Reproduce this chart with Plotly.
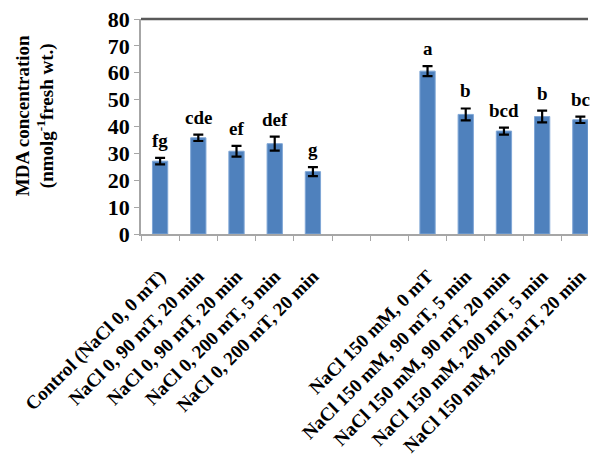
import plotly.graph_objects as go

labels = [
    "Control (NaCl 0, 0 mT)",
    "NaCl 0, 90 mT, 20 min",
    "NaCl 0, 90 mT, 20 min",
    "NaCl 0, 200 mT, 5 min",
    "NaCl 0, 200 mT, 20 min",
    "",
    "",
    "NaCl 150 mM, 0 mT",
    "NaCl 150 mM, 90 mT, 5 min",
    "NaCl 150 mM, 90 mT, 20 min",
    "NaCl 150 mM, 200 mT, 5 min",
    "NaCl 150 mM, 200 mT, 20 min",
]
values = [27.1, 35.8, 30.8, 33.6, 23.2, None, None, 60.6, 44.5, 38.3, 43.7, 42.5]
errors = [1.2, 1.2, 2.0, 2.6, 1.7, None, None, 1.85, 2.2, 1.3, 2.2, 1.2]
letters = ["fg", "cde", "ef", "def", "g", "", "", "a", "b", "bcd", "b", "bc"]

ids = [f"c{i}" for i in range(len(labels))]
FONT = "Liberation Serif, Times New Roman, serif"

fig = go.Figure()
fig.add_trace(go.Bar(
    x=ids, y=values,
    marker=dict(color="#4F81BD", line=dict(color="#7FA6D6", width=1)),
    error_y=dict(type="data", array=errors, visible=True,
                 color="black", thickness=2.2, width=5),
    width=0.4,
))

for cid, v, e, t in zip(ids, values, errors, letters):
    if v is None or not t:
        continue
    fig.add_annotation(x=cid, y=v + e, text=f"<b>{t}</b>", showarrow=False,
                       yanchor="bottom", yshift=5,
                       font=dict(family=FONT, size=19, color="black"))

fig.add_annotation(
    xref="paper", yref="paper", x=-0.236, y=0.55, xanchor="center", yanchor="middle",
    text="<b>MDA concentration<br>(nmolg<sup>-1</sup>fresh wt.)</b>",
    textangle=-90, showarrow=False,
    font=dict(family=FONT, size=19, color="black"),
)

fig.add_shape(type="line", xref="paper", yref="paper", x0=0, x1=1, y0=1, y1=1,
              line=dict(color="#595959", width=2.5))

fig.update_layout(
    width=590, height=456,
    margin=dict(l=141, r=0, t=19, b=220),
    plot_bgcolor="white", paper_bgcolor="white",
    showlegend=False,
    font=dict(family=FONT, color="black"),
    bargap=0.6,
)
fig.update_xaxes(
    type="category", tickmode="array", tickvals=ids,
    ticktext=[f"<b>{l}</b>" if l else "" for l in labels],
    range=[-0.5, 11.2], tickangle=-45, tickson="boundaries",
    showline=True, linecolor="#A6A6A6", linewidth=1.5,
    ticks="outside", ticklen=5, tickcolor="#A6A6A6",
    tickfont=dict(family=FONT, size=19, color="black"),
    ticklabelstandoff=22,
    showgrid=False,
)
fig.update_yaxes(
    range=[0, 80], dtick=10,
    showline=True, linecolor="#A6A6A6", linewidth=1.5,
    ticks="outside", ticklen=5, tickcolor="#A6A6A6",
    tickfont=dict(family=FONT, size=22, color="black"),
    tickprefix="<b>", ticksuffix="</b>",
    showgrid=False, zeroline=False,
)

fig.write_html("out.html")
